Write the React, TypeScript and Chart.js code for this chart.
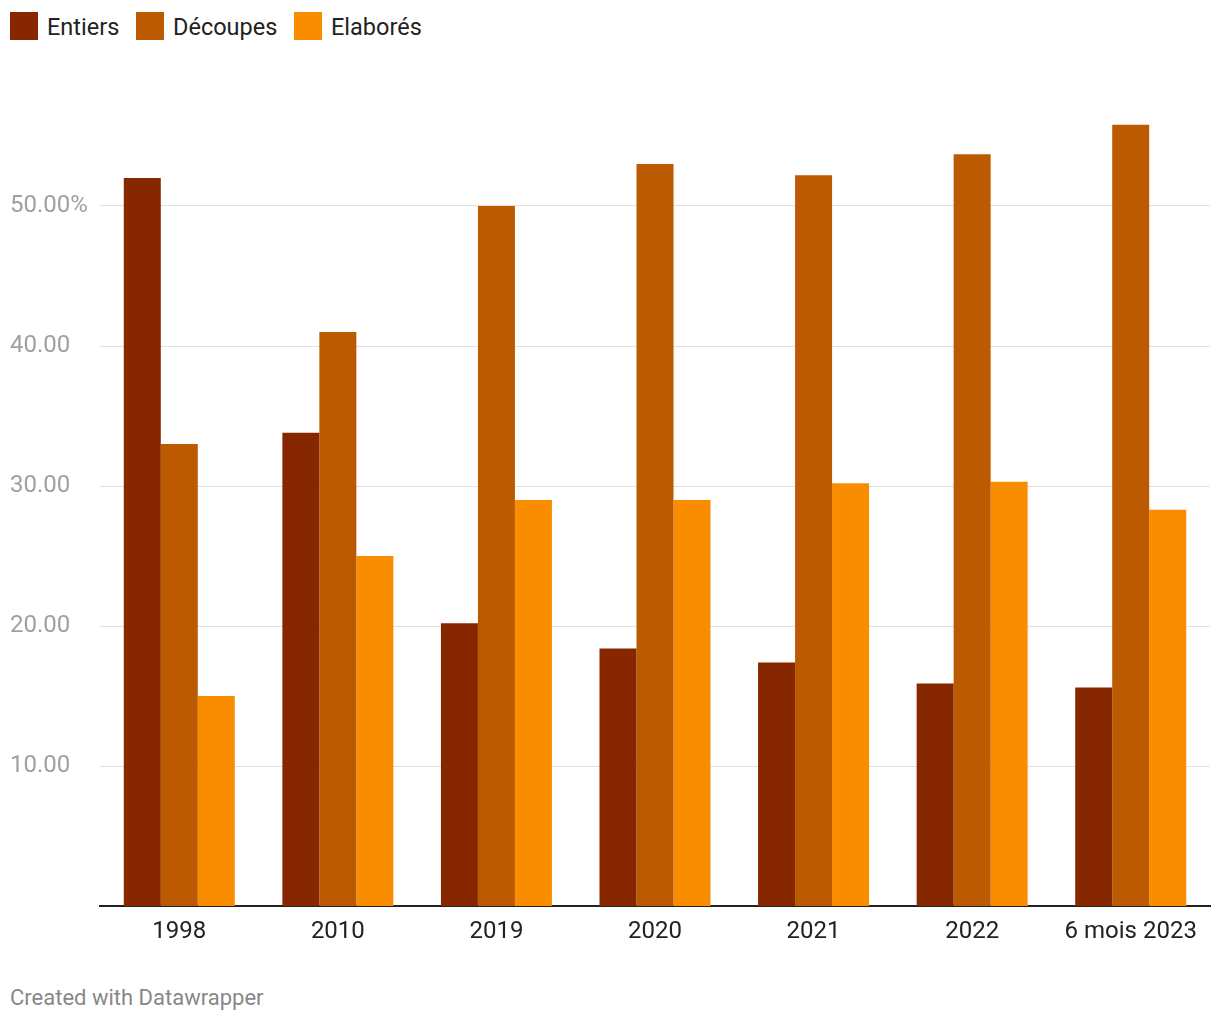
import React, { useEffect, useRef } from "react";
import { Chart, registerables } from "chart.js";

Chart.register(...registerables);

const categories = ["1998", "2010", "2019", "2020", "2021", "2022", "6 mois 2023"];
const entiers = [52.0, 33.8, 20.2, 18.4, 17.4, 15.9, 15.6];
const decoupes = [33.0, 41.0, 50.0, 53.0, 52.2, 53.7, 55.8];
const elabores = [15.0, 25.0, 29.0, 29.0, 30.2, 30.3, 28.3];
const seriesNames = ["Entiers", "Découpes", "Elaborés"];
const seriesColors = ["#862700", "#bb5a00", "#fa8c00"];
const yTicks = [10, 20, 30, 40, 50];

const FONT = "Roboto, 'Noto Sans', sans-serif";

export default function App() {
  const ref = useRef<HTMLCanvasElement | null>(null);
  useEffect(() => {
    if (!ref.current) return;
    const chart = new Chart(ref.current, {
      type: "bar",
      data: {
        labels: categories,
        datasets: [entiers, decoupes, elabores].map((d, i) => ({
          label: seriesNames[i],
          data: d,
          backgroundColor: seriesColors[i],
          borderWidth: 0,
          categoryPercentage: 0.7,
          barPercentage: 1.0,
        })),
      },
      options: {
        animation: false,
        responsive: false,
        maintainAspectRatio: false,
        layout: { padding: { top: 66, left: 10, right: 10, bottom: 0 } },
        plugins: { legend: { display: false }, tooltip: { enabled: false } },
        scales: {
          x: {
            grid: { display: false },
            border: { display: true, color: "#222222", width: 2 },
            ticks: { color: "#222222", font: { family: FONT, size: 24 }, padding: 4, maxRotation: 0, autoSkip: false },
            afterFit: (s: any) => { s.height = 55; },
          },
          y: {
            min: 0,
            max: 60,
            afterBuildTicks: (s: any) => { s.ticks = yTicks.map((v) => ({ value: v })); },
            grid: { color: "#e0e0e0", lineWidth: 1, drawTicks: false },
            border: { display: false },
            ticks: {
              color: "#a0a0a0",
              font: { family: FONT, size: 24 },
              crossAlign: "far",
              padding: 0,
              callback: (v: any) => (v === 50 ? "50.00%" : Number(v).toFixed(2)),
            },
            afterFit: (s: any) => { s.width = 90; },
          },
        },
      },
    });
    return () => chart.destroy();
  }, []);

  const legendItem = (i: number, left: number) => (
    <div key={i} style={{ position: "absolute", left, top: 12, display: "flex", alignItems: "center", height: 28 }}>
      <div style={{ width: 28, height: 28, background: seriesColors[i] }} />
      <span style={{ marginLeft: 9, fontSize: 23.5, color: "#222", fontFamily: FONT, lineHeight: "28px", position: "relative", top: 1 }}>{seriesNames[i]}</span>
    </div>
  );

  return (
    <div style={{ position: "fixed", left: 0, top: 0, width: 1220, height: 1020, background: "#fff", fontFamily: FONT }}>
      {legendItem(0, 10)}
      {legendItem(1, 136)}
      {legendItem(2, 294)}
      <canvas ref={ref} width={1220} height={961} style={{ position: "absolute", left: 0, top: 0, width: 1220, height: 961 }} />
      <div style={{ position: "absolute", left: 10, top: 984, fontSize: 22, color: "#888888", fontFamily: FONT, lineHeight: "28px" }}>
        Created with Datawrapper
      </div>
    </div>
  );
}
